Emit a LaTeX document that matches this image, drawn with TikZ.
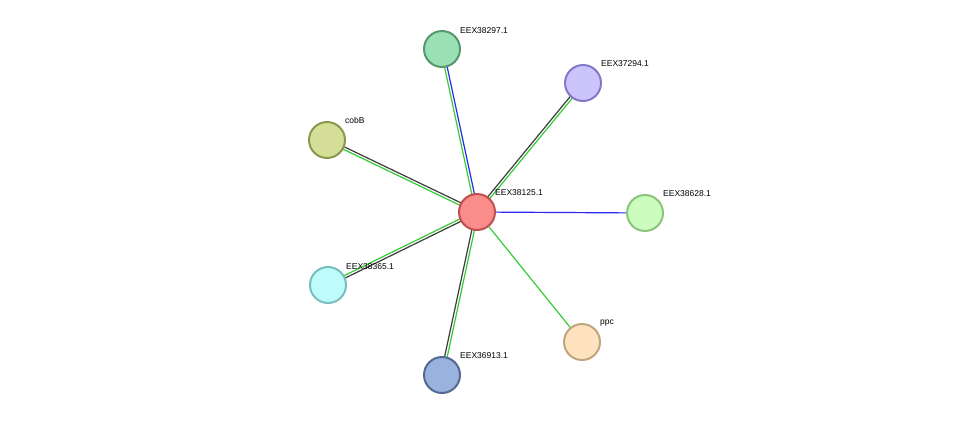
\documentclass[tikz,border=0pt]{standalone}
\usetikzlibrary{calc}
\usepackage{fontspec}
\setmainfont{Liberation Sans}
\definecolor{eg}{RGB}{51,204,51}
\definecolor{eb}{RGB}{40,40,240}
\definecolor{ek}{RGB}{60,60,60}
\begin{document}
\begin{tikzpicture}[x=1pt,y=-1pt,
  prot/.style={circle,minimum size=36pt,inner sep=0pt,line width=2pt},
  lab/.style={anchor=south west,font=\fontsize{8.5}{10}\selectfont,inner sep=0pt},
  ed/.style={line width=1.2pt}]
\useasboundingbox (0,0) rectangle (976,421);
\newcommand\pairedge[4]{%
  \draw[ed,#3] ($(#1)!1.3pt!90:(#2)$) -- ($(#2)!1.3pt!-90:(#1)$);
  \draw[ed,#4] ($(#1)!1.3pt!-90:(#2)$) -- ($(#2)!1.3pt!90:(#1)$);}
\coordinate (c) at (477,212);
\coordinate (a) at (442,49);
\coordinate (b) at (583,83);
\coordinate (d) at (327,140);
\coordinate (e) at (645,213);
\coordinate (f) at (328,285);
\coordinate (g) at (442,375);
\coordinate (h) at (582,342);
\pairedge{c}{a}{eg}{eb}
\pairedge{c}{b}{ek}{eg}
\pairedge{c}{d}{eg}{ek}
\pairedge{c}{f}{ek}{eg}
\pairedge{c}{g}{eg}{ek}
\draw[ed,eb] (c) -- (e);
\draw[ed,eg] (c) -- (h);
\node[prot,fill={rgb,255:red,153;green,225;blue,180},draw={rgb,255:red,88;green,150;blue,110}] (na) at (a) {};
\node[prot,fill={rgb,255:red,204;green,196;blue,252},draw={rgb,255:red,132;green,120;blue,200}] (nb) at (b) {};
\node[prot,fill={rgb,255:red,212;green,222;blue,150},draw={rgb,255:red,138;green,152;blue,80}] (nd) at (d) {};
\node[prot,fill={rgb,255:red,204;green,252;blue,190},draw={rgb,255:red,140;green,196;blue,125}] (ne) at (e) {};
\node[prot,fill={rgb,255:red,190;green,252;blue,252},draw={rgb,255:red,120;green,190;blue,190}] (nf) at (f) {};
\node[prot,fill={rgb,255:red,154;green,178;blue,222},draw={rgb,255:red,85;green,105;blue,145}] (ng) at (g) {};
\node[prot,fill={rgb,255:red,255;green,226;blue,192},draw={rgb,255:red,192;green,165;blue,125}] (nh) at (h) {};
\node[prot,fill={rgb,255:red,250;green,140;blue,140},draw={rgb,255:red,192;green,80;blue,80}] (nc) at (c) {};
\node[lab] at (460,34) {EEX38297.1};
\node[lab] at (601,67) {EEX37294.1};
\node[lab] at (345,124) {cobB};
\node[lab] at (663,197) {EEX38628.1};
\node[lab] at (346,270) {EEX38365.1};
\node[lab] at (460,359) {EEX36913.1};
\node[lab] at (600,326) {ppc};
\node[lab] at (495,196) {EEX38125.1};
\end{tikzpicture}
\end{document}
